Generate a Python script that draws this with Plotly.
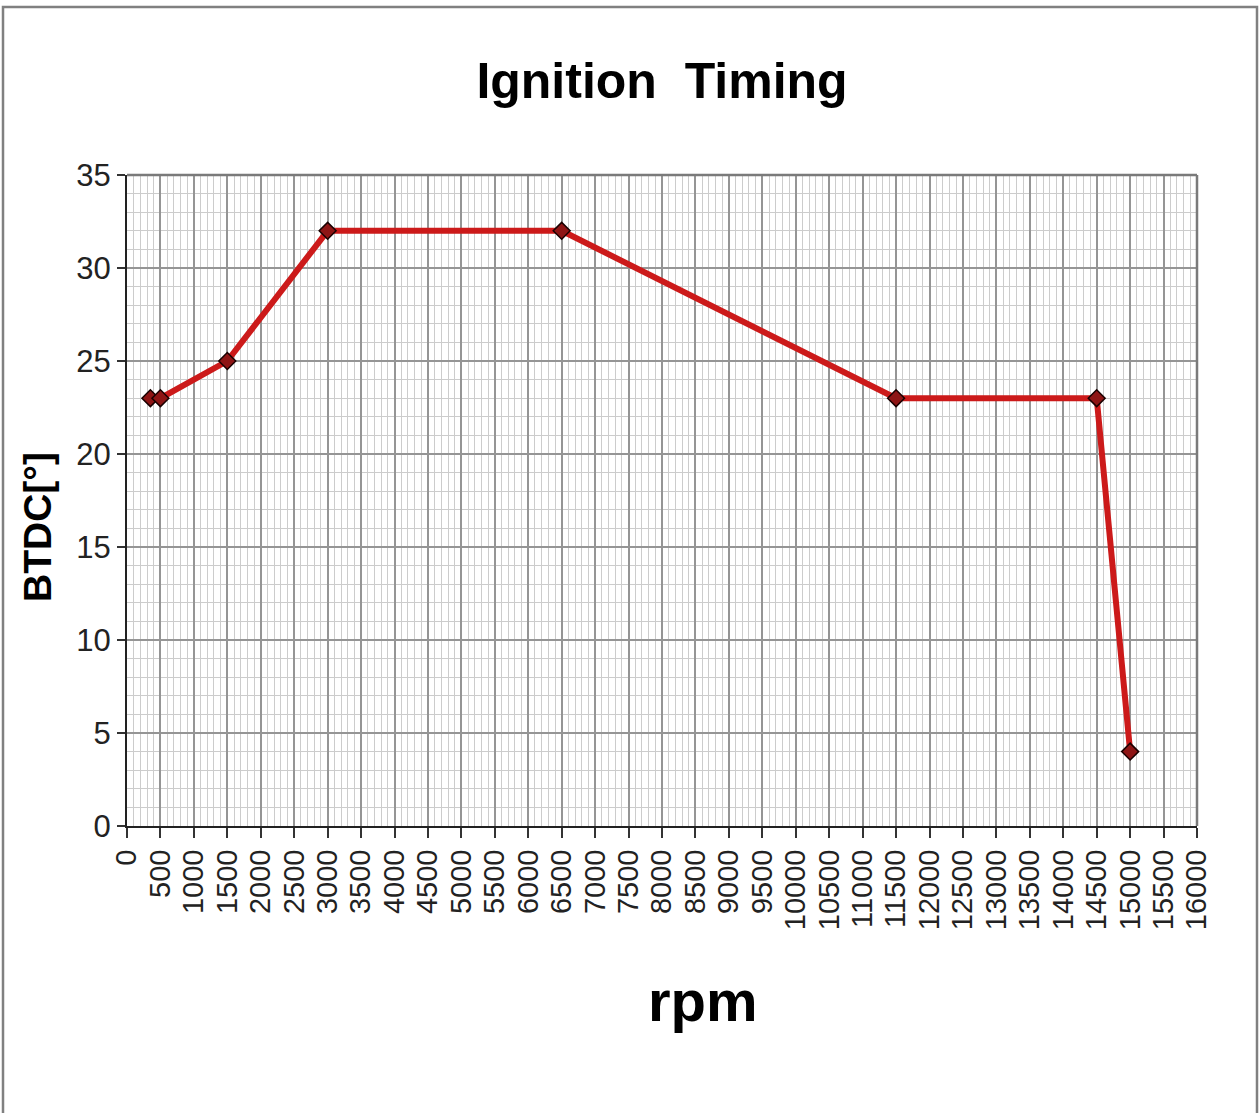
import plotly.graph_objects as go

# Ignition advance map: engine speed vs. degrees before top dead centre
rpm = [350, 500, 1500, 3000, 6500, 11500, 14500, 15000]
btdc = [23, 23, 25, 32, 32, 23, 23, 4]

x_ticks = list(range(0, 16001, 500))
y_ticks = list(range(0, 36, 5))

W, H = 1260, 1113
L, R, T, B = 127, 63, 175, 287
pw, ph = W - L - R, H - T - B

fig = go.Figure()
fig.add_trace(go.Scatter(
    x=rpm, y=btdc, mode="lines+markers",
    line=dict(color="#cc1a1a", width=6),
    marker=dict(symbol="diamond", size=13, color="#8e1515",
                line=dict(color="#1a0000", width=1.5)),
    showlegend=False,
))

font = "Liberation Sans, Arial, sans-serif"

fig.update_layout(
    width=W, height=H,
    margin=dict(l=L, r=R, t=T, b=B),
    paper_bgcolor="white", plot_bgcolor="white",
    title=dict(text="<b>Ignition  Timing</b>", x=(L + pw / 2) / W, xanchor="center",
               y=1 - 80 / H, yanchor="middle", yref="container",
               font=dict(family=font, size=50, color="black")),
    xaxis=dict(
        range=[0, 16000], tickvals=x_ticks, ticktext=[str(v) for v in x_ticks],
        tickangle=-90, tickfont=dict(family=font, size=29, color="#222"),
        ticks="outside", ticklen=10, tickcolor="#333", tickwidth=1.5,
        showline=True, linecolor="#222", linewidth=2, mirror=False,
        showgrid=True, gridcolor="#959595", gridwidth=1.5,
        minor=dict(dtick=100, showgrid=True, gridcolor="#cccccc", gridwidth=1),
        zeroline=False,
    ),
    yaxis=dict(
        range=[0, 35], tickvals=y_ticks,
        tickfont=dict(family=font, size=31, color="#222"),
        ticks="outside", ticklen=8, tickcolor="#333", tickwidth=1.5,
        showline=True, linecolor="#222", linewidth=2,
        showgrid=True, gridcolor="#959595", gridwidth=1.5,
        minor=dict(dtick=1, showgrid=True, gridcolor="#cccccc", gridwidth=1),
        zeroline=False,
    ),
    annotations=[
        dict(text="<b>BTDC[°]</b>", textangle=-90, showarrow=False,
             xref="paper", yref="paper",
             x=(37 - L) / pw, y=(H - B - 527) / ph,
             xanchor="center", yanchor="middle",
             font=dict(family=font, size=39, color="black")),
        dict(text="<b>rpm</b>", showarrow=False,
             xref="paper", yref="paper",
             x=(703 - L) / pw, y=(H - B - 1000) / ph,
             xanchor="center", yanchor="middle",
             font=dict(family=font, size=58, color="black")),
    ],
    shapes=[
        # gray border along top and right of plotting area
        dict(type="line", xref="paper", yref="paper", x0=0, x1=1, y0=1, y1=1,
             line=dict(color="#7a7a7a", width=2.5)),
        dict(type="line", xref="paper", yref="paper", x0=1, x1=1, y0=0, y1=1,
             line=dict(color="#7a7a7a", width=2.5)),
        # outer chart frame
        dict(type="rect", xref="paper", yref="paper",
             x0=(3 - L) / pw, x1=(1257 - L) / pw,
             y0=-(B + 20) / ph, y1=1 + (T - 7) / ph,
             line=dict(color="#808080", width=2.5)),
    ],
)

fig.write_html("out.html")
